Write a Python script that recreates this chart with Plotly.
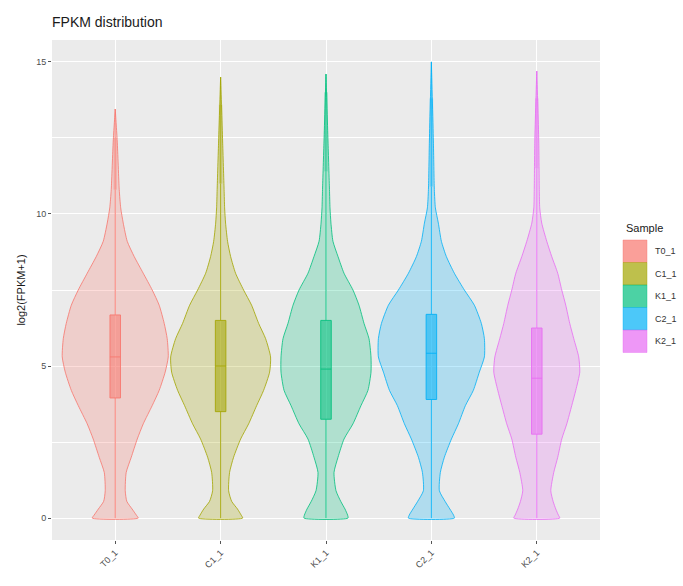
import plotly.graph_objects as go

# ---- data -------------------------------------------------------------
samples = ["T0_1", "C1_1", "K1_1", "C2_1", "K2_1"]
colors = ["#F8766D", "#A3A500", "#00BF7D", "#00B0F6", "#E76BF3"]

# log2(FPKM+1) levels at which the violin outline is sampled (last level = sample max)
grid = [0, 0.1, 0.3, 0.55, 0.9, 1.5, 2.0, 2.6, 3.1, 3.7, 4.2, 4.8, 5.3, 5.9,
        6.4, 7.0, 7.5, 8.05, 8.6, 9.1, 9.7, 10.2, 10.8, 12.4]
sample_max = [13.45, 14.5, 14.6, 15.0, 14.7]

# violin half-width (x units) at each grid level
half_width = {
    "T0_1": [0.218, 0.200, 0.160, 0.110, 0.095, 0.104, 0.152, 0.209, 0.266, 0.351, 0.417, 0.474,
             0.503, 0.493, 0.465, 0.417, 0.351, 0.266, 0.180, 0.114, 0.076, 0.052, 0.038, 0.019],
    "C1_1": [0.209, 0.195, 0.160, 0.105, 0.076, 0.085, 0.123, 0.190, 0.266, 0.342, 0.408, 0.465,
             0.474, 0.427, 0.361, 0.294, 0.218, 0.142, 0.095, 0.066, 0.047, 0.038, 0.033, 0.019],
    "K1_1": [0.209, 0.205, 0.180, 0.140, 0.095, 0.076, 0.114, 0.171, 0.256, 0.332, 0.398, 0.427,
             0.427, 0.408, 0.361, 0.313, 0.256, 0.171, 0.114, 0.066, 0.047, 0.038, 0.033, 0.019],
    "C2_1": [0.218, 0.210, 0.175, 0.130, 0.076, 0.085, 0.123, 0.190, 0.256, 0.323, 0.398, 0.455,
             0.503, 0.503, 0.474, 0.408, 0.313, 0.218, 0.142, 0.095, 0.066, 0.038, 0.028, 0.019],
    "K2_1": [0.218, 0.205, 0.180, 0.155, 0.133, 0.161, 0.199, 0.237, 0.285, 0.332, 0.370, 0.408,
             0.398, 0.351, 0.313, 0.275, 0.237, 0.199, 0.142, 0.095, 0.047, 0.028, 0.024, 0.019],
}

# boxplot statistics
q1 = [3.95, 3.5, 3.25, 3.9, 2.76]
median = [5.3, 5.0, 4.9, 5.42, 4.6]
q3 = [6.68, 6.5, 6.5, 6.7, 6.25]
lower_fence = [0, 0, 0, 0, 0]
upper_fence = [10.8, 11.0, 11.4, 10.9, 11.5]
# extent of the dense run of outlier points above the upper whisker
outlier_top = [12.5, 13.6, 14.0, 13.8, 13.8]

y_ticks = [0, 5, 10, 15]


def rgba(hex_color, a):
    h = hex_color.lstrip("#")
    r, g, b = int(h[0:2], 16), int(h[2:4], 16), int(h[4:6], 16)
    return f"rgba({r},{g},{b},{a})"


fig = go.Figure()
positions = list(range(1, len(samples) + 1))

for i, (s, c) in enumerate(zip(samples, colors)):
    pos = positions[i]
    ys = grid + [sample_max[i]]
    ws = half_width[s] + [0.0]
    xs_right = [pos + w for w in ws]
    xs_left = [pos - w for w in reversed(ws)]
    fig.add_trace(go.Scatter(
        x=xs_right + xs_left + [xs_right[0]],
        y=ys + list(reversed(ys)) + [ys[0]],
        mode="lines", fill="toself",
        fillcolor=rgba(c, 0.25),
        line=dict(color=rgba(c, 0.8), width=1, shape="spline", smoothing=0.6),
        name=s, showlegend=False, hoverinfo="skip",
    ))

for i, (s, c) in enumerate(zip(samples, colors)):
    pos = positions[i]
    # thin line up to the sample maximum, thicker band where outliers pile up
    fig.add_trace(go.Scatter(
        x=[pos, pos], y=[upper_fence[i], sample_max[i]], mode="lines",
        line=dict(color=rgba(c, 0.7), width=1), showlegend=False, hoverinfo="skip",
    ))
    fig.add_trace(go.Scatter(
        x=[pos, pos], y=[upper_fence[i], outlier_top[i]], mode="lines",
        line=dict(color=rgba(c, 0.3), width=3.5), showlegend=False, hoverinfo="skip",
    ))
    fig.add_trace(go.Box(
        x=[pos], q1=[q1[i]], median=[median[i]], q3=[q3[i]],
        lowerfence=[lower_fence[i]], upperfence=[upper_fence[i]],
        width=0.1, whiskerwidth=0, boxpoints=False,
        fillcolor=rgba(c, 0.55), line=dict(color=rgba(c, 0.85), width=1),
        name=s, showlegend=False, hoverinfo="skip",
    ))

# ---- layout -------------------------------------------------------------
W, H = 683, 586
L, R, T, B = 52, 83, 40, 46
pw, ph = W - L - R, H - T - B


def px_to_paper(px, py):
    return (px - L) / pw, (H - B - py) / ph


font_family = "Liberation Sans, Arial, sans-serif"

fig.update_layout(
    width=W, height=H,
    margin=dict(l=L, r=R, t=T, b=B),
    paper_bgcolor="white", plot_bgcolor="#EBEBEB",
    font=dict(family=font_family, color="#4D4D4D"),
    showlegend=False,
    title=dict(text="FPKM distribution", x=L / W, xanchor="left",
               y=1 - 22 / H, yanchor="middle",
               font=dict(size=14, color="#1A1A1A", family=font_family)),
    xaxis=dict(
        range=[0.4, 5.6], tickvals=positions, ticktext=samples, tickangle=-45,
        showgrid=True, gridcolor="white", gridwidth=1.1, zeroline=False,
        ticks="outside", ticklen=3, tickcolor="#555555", tickwidth=1,
        tickfont=dict(size=9, color="#4D4D4D"), showline=False,
    ),
    yaxis=dict(
        range=[-0.72, 15.72], tickvals=y_ticks,
        showgrid=True, gridcolor="white", gridwidth=1.1, zeroline=False,
        ticks="outside", ticklen=3, tickcolor="#555555", tickwidth=1,
        tickfont=dict(size=9, color="#4D4D4D"), showline=False,
        minor=dict(tickvals=[2.5, 7.5, 12.5], showgrid=True, gridcolor="white",
                   gridwidth=0.5, ticks=""),
        title=dict(text="log2(FPKM+1)", font=dict(size=11, color="#1A1A1A"), standoff=8),
    ),
)

# ---- legend -------------------------------------------------------------
shapes = []
annotations = []
tx, ty = px_to_paper(624, 228)
annotations.append(dict(text="Sample", x=tx, y=ty, xref="paper", yref="paper",
                        xanchor="left", yanchor="middle", showarrow=False,
                        font=dict(size=11, color="#1A1A1A")))
key_x0, key_x1 = 623, 647
key_top, key_h = 240, 22.5
for i, (s, c) in enumerate(zip(samples, colors)):
    y0p = key_top + i * key_h
    x0, y0 = px_to_paper(key_x0, y0p)
    x1, y1 = px_to_paper(key_x1, y0p + key_h)
    shapes.append(dict(type="rect", xref="paper", yref="paper",
                       x0=x0, x1=x1, y0=y1, y1=y0,
                       fillcolor=rgba(c, 0.7), line=dict(color=rgba(c, 0.4), width=1)))
    lx, ly = px_to_paper(653, y0p + key_h / 2)
    annotations.append(dict(text=s, x=lx, y=ly, xref="paper", yref="paper",
                            xanchor="left", yanchor="middle", showarrow=False,
                            font=dict(size=9, color="#333333")))

fig.update_layout(shapes=shapes, annotations=annotations)

fig.write_html("out.html")
